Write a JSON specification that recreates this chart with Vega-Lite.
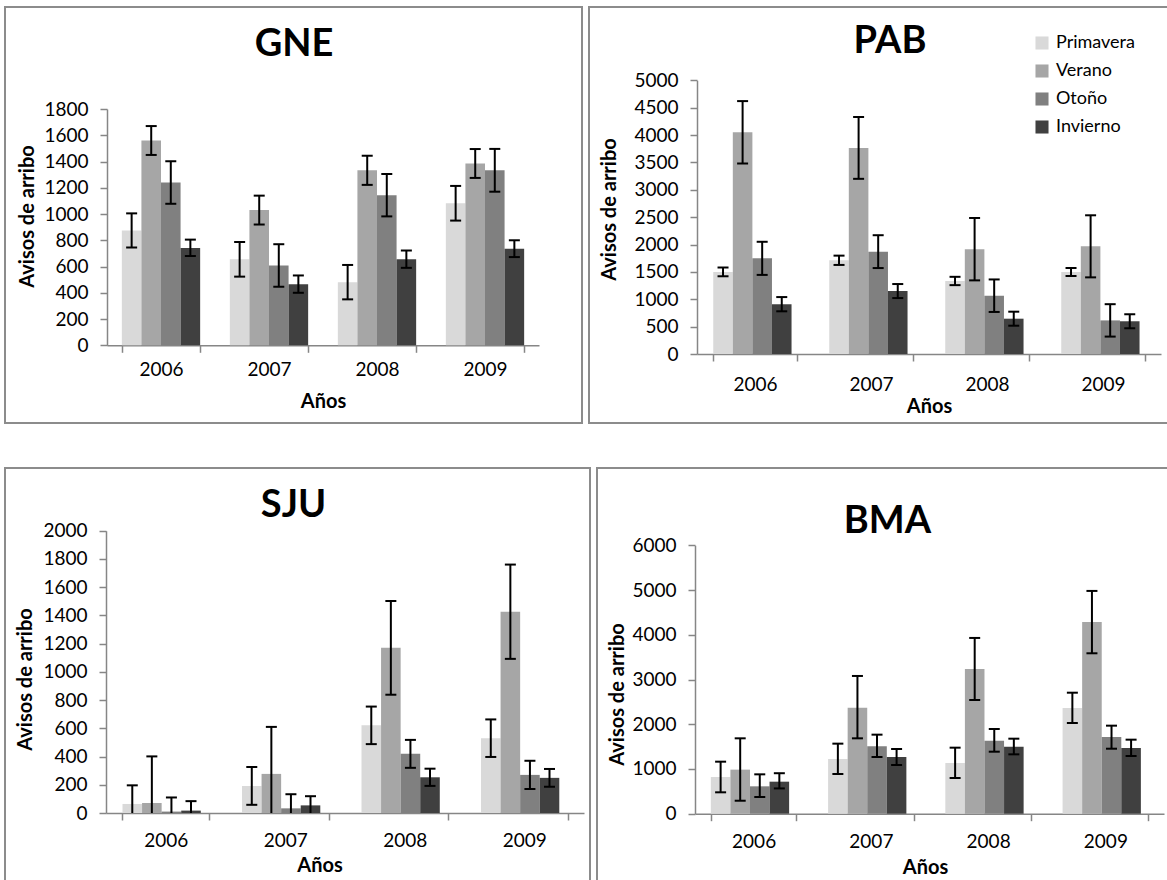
{
  "$schema": "https://vega.github.io/schema/vega-lite/v6.json",
  "background": "white",
  "padding": {"left": 4, "top": 6, "right": 0, "bottom": 0},
  "datasets": {
    "avisos": [
      {"site": "GNE", "year": "2006", "season": "Primavera", "value": 875, "lo": 745, "hi": 1005},
      {"site": "GNE", "year": "2006", "season": "Verano", "value": 1560, "lo": 1450, "hi": 1670},
      {"site": "GNE", "year": "2006", "season": "Otoño", "value": 1240, "lo": 1078, "hi": 1402},
      {"site": "GNE", "year": "2006", "season": "Invierno", "value": 741, "lo": 680, "hi": 805},
      {"site": "GNE", "year": "2007", "season": "Primavera", "value": 655, "lo": 523, "hi": 787},
      {"site": "GNE", "year": "2007", "season": "Verano", "value": 1030, "lo": 920, "hi": 1140},
      {"site": "GNE", "year": "2007", "season": "Otoño", "value": 608, "lo": 446, "hi": 770},
      {"site": "GNE", "year": "2007", "season": "Invierno", "value": 465, "lo": 400, "hi": 532},
      {"site": "GNE", "year": "2008", "season": "Primavera", "value": 480, "lo": 350, "hi": 612},
      {"site": "GNE", "year": "2008", "season": "Verano", "value": 1333, "lo": 1222, "hi": 1444},
      {"site": "GNE", "year": "2008", "season": "Otoño", "value": 1143, "lo": 982, "hi": 1305},
      {"site": "GNE", "year": "2008", "season": "Invierno", "value": 655, "lo": 590, "hi": 722},
      {"site": "GNE", "year": "2009", "season": "Primavera", "value": 1082, "lo": 950, "hi": 1214},
      {"site": "GNE", "year": "2009", "season": "Verano", "value": 1385, "lo": 1275, "hi": 1495},
      {"site": "GNE", "year": "2009", "season": "Otoño", "value": 1333, "lo": 1170, "hi": 1496},
      {"site": "GNE", "year": "2009", "season": "Invierno", "value": 736, "lo": 672, "hi": 800},

      {"site": "PAB", "year": "2006", "season": "Primavera", "value": 1500, "lo": 1420, "hi": 1580},
      {"site": "PAB", "year": "2006", "season": "Verano", "value": 4050, "lo": 3480, "hi": 4620},
      {"site": "PAB", "year": "2006", "season": "Otoño", "value": 1748, "lo": 1445, "hi": 2050},
      {"site": "PAB", "year": "2006", "season": "Invierno", "value": 910, "lo": 780, "hi": 1040},
      {"site": "PAB", "year": "2007", "season": "Primavera", "value": 1712, "lo": 1627, "hi": 1797},
      {"site": "PAB", "year": "2007", "season": "Verano", "value": 3765, "lo": 3200, "hi": 4330},
      {"site": "PAB", "year": "2007", "season": "Otoño", "value": 1870, "lo": 1570, "hi": 2170},
      {"site": "PAB", "year": "2007", "season": "Invierno", "value": 1150, "lo": 1022, "hi": 1278},
      {"site": "PAB", "year": "2008", "season": "Primavera", "value": 1334, "lo": 1258, "hi": 1410},
      {"site": "PAB", "year": "2008", "season": "Verano", "value": 1915, "lo": 1345, "hi": 2485},
      {"site": "PAB", "year": "2008", "season": "Otoño", "value": 1065, "lo": 768, "hi": 1362},
      {"site": "PAB", "year": "2008", "season": "Invierno", "value": 645, "lo": 517, "hi": 773},
      {"site": "PAB", "year": "2009", "season": "Primavera", "value": 1498, "lo": 1425, "hi": 1571},
      {"site": "PAB", "year": "2009", "season": "Verano", "value": 1967, "lo": 1400, "hi": 2534},
      {"site": "PAB", "year": "2009", "season": "Otoño", "value": 614, "lo": 318, "hi": 910},
      {"site": "PAB", "year": "2009", "season": "Invierno", "value": 598, "lo": 470, "hi": 726},

      {"site": "SJU", "year": "2006", "season": "Primavera", "value": 64, "lo": -68, "hi": 196},
      {"site": "SJU", "year": "2006", "season": "Verano", "value": 71, "lo": -259, "hi": 401},
      {"site": "SJU", "year": "2006", "season": "Otoño", "value": 10, "lo": -90, "hi": 110},
      {"site": "SJU", "year": "2006", "season": "Invierno", "value": 17, "lo": -50, "hi": 84},
      {"site": "SJU", "year": "2007", "season": "Primavera", "value": 192, "lo": 58, "hi": 326},
      {"site": "SJU", "year": "2007", "season": "Verano", "value": 277, "lo": -56, "hi": 610},
      {"site": "SJU", "year": "2007", "season": "Otoño", "value": 33, "lo": -67, "hi": 133},
      {"site": "SJU", "year": "2007", "season": "Invierno", "value": 54, "lo": -11, "hi": 119},
      {"site": "SJU", "year": "2008", "season": "Primavera", "value": 621, "lo": 488, "hi": 754},
      {"site": "SJU", "year": "2008", "season": "Verano", "value": 1170, "lo": 838, "hi": 1502},
      {"site": "SJU", "year": "2008", "season": "Otoño", "value": 419, "lo": 320, "hi": 518},
      {"site": "SJU", "year": "2008", "season": "Invierno", "value": 253, "lo": 192, "hi": 314},
      {"site": "SJU", "year": "2009", "season": "Primavera", "value": 530, "lo": 397, "hi": 663},
      {"site": "SJU", "year": "2009", "season": "Verano", "value": 1426, "lo": 1092, "hi": 1760},
      {"site": "SJU", "year": "2009", "season": "Otoño", "value": 270, "lo": 170, "hi": 370},
      {"site": "SJU", "year": "2009", "season": "Invierno", "value": 249, "lo": 186, "hi": 312},

      {"site": "BMA", "year": "2006", "season": "Primavera", "value": 820, "lo": 478, "hi": 1163},
      {"site": "BMA", "year": "2006", "season": "Verano", "value": 985, "lo": 290, "hi": 1685},
      {"site": "BMA", "year": "2006", "season": "Otoño", "value": 612, "lo": 373, "hi": 880},
      {"site": "BMA", "year": "2006", "season": "Invierno", "value": 716, "lo": 565, "hi": 905},
      {"site": "BMA", "year": "2007", "season": "Primavera", "value": 1222, "lo": 888, "hi": 1566},
      {"site": "BMA", "year": "2007", "season": "Verano", "value": 2371, "lo": 1685, "hi": 3079},
      {"site": "BMA", "year": "2007", "season": "Otoño", "value": 1506, "lo": 1267, "hi": 1767},
      {"site": "BMA", "year": "2007", "season": "Invierno", "value": 1267, "lo": 1089, "hi": 1446},
      {"site": "BMA", "year": "2008", "season": "Primavera", "value": 1133, "lo": 798, "hi": 1476},
      {"site": "BMA", "year": "2008", "season": "Verano", "value": 3235, "lo": 2542, "hi": 3929},
      {"site": "BMA", "year": "2008", "season": "Otoño", "value": 1632, "lo": 1386, "hi": 1894},
      {"site": "BMA", "year": "2008", "season": "Invierno", "value": 1498, "lo": 1327, "hi": 1677},
      {"site": "BMA", "year": "2009", "season": "Primavera", "value": 2363, "lo": 2027, "hi": 2705},
      {"site": "BMA", "year": "2009", "season": "Verano", "value": 4286, "lo": 3586, "hi": 4980},
      {"site": "BMA", "year": "2009", "season": "Otoño", "value": 1715, "lo": 1453, "hi": 1968},
      {"site": "BMA", "year": "2009", "season": "Invierno", "value": 1469, "lo": 1290, "hi": 1655}
    ]
  },
  "spacing": 43,
  "resolve": {"scale": {"color": "independent"}, "legend": {"color": "independent"}},
  "vconcat": [
    {
      "spacing": 7,
      "bounds": "flush",
      "resolve": {"scale": {"color": "independent"}, "legend": {"color": "independent"}},
      "hconcat": [
        {
          "width": 577,
          "height": 416,
          "data": {"name": "avisos"},
          "transform": [{"filter": "datum.site === 'GNE'"}],
          "encoding": {
            "xOffset": {"field": "season", "type": "nominal", "sort": ["Primavera", "Verano", "Otoño", "Invierno"], "scale": {"paddingInner": 0, "paddingOuter": 0}}
          },
          "layer": [
            {
              "mark": "bar",
              "encoding": {
                "x": {
                  "field": "year", "type": "nominal",
                  "scale": {"range": [102, 534], "paddingInner": 0.275, "paddingOuter": 0.1375},
                  "axis": {"orient": "bottom", "title": "Años", "offset": -77.7, "labelPadding": 17, "titleX": 318, "titleY": 55.7}
                },
                "y": {
                  "field": "value", "type": "quantitative", "title": "Avisos de arribo",
                  "scale": {"domain": [0, 1800], "range": [338.3, 102], "clamp": true, "nice": false},
                  "axis": {"values": [0, 200, 400, 600, 800, 1000, 1200, 1400, 1600, 1800], "offset": -102, "titleX": -80, "titleY": 209}
                },
                "color": {"field": "season", "type": "nominal", "sort": ["Primavera", "Verano", "Otoño", "Invierno"], "scale": {"domain": ["Primavera", "Verano", "Otoño", "Invierno"], "range": ["#d9d9d9", "#a6a6a6", "#808080", "#404040"]}, "legend": null}
              }
            },
            {
              "mark": {"type": "rule", "color": "black", "strokeWidth": 2},
              "encoding": {
                "x": {"field": "year", "type": "nominal", "axis": {"orient": "top", "title": "GNE", "offset": 0, "domain": false, "ticks": false, "labels": false, "titleFontSize": 38, "titleX": 288.5, "titleY": 37}},
                "y": {"field": "lo", "type": "quantitative", "title": "Avisos de arribo"},
                "y2": {"field": "hi"}
              }
            },
            {"mark": {"type": "tick", "color": "black", "thickness": 2, "size": 11, "opacity": 1}, "encoding": {"x": {"field": "year", "type": "nominal", "axis": null}, "y": {"field": "hi", "type": "quantitative", "title": "Avisos de arribo"}}},
            {"transform": [{"filter": "datum.lo >= 0"}], "mark": {"type": "tick", "color": "black", "thickness": 2, "size": 11, "opacity": 1}, "encoding": {"x": {"field": "year", "type": "nominal", "axis": null}, "y": {"field": "lo", "type": "quantitative", "title": "Avisos de arribo"}}}
          ]
        },
        {
          "width": 601,
          "height": 416,
          "data": {"name": "avisos"},
          "transform": [{"filter": "datum.site === 'PAB'"}],
          "encoding": {
            "xOffset": {"field": "season", "type": "nominal", "sort": ["Primavera", "Verano", "Otoño", "Invierno"], "scale": {"paddingInner": 0, "paddingOuter": 0}}
          },
          "layer": [
            {
              "mark": "bar",
              "encoding": {
                "x": {
                  "field": "year", "type": "nominal",
                  "scale": {"range": [108, 572], "paddingInner": 0.28, "paddingOuter": 0.14},
                  "axis": {"orient": "bottom", "title": "Años", "offset": -69, "labelPadding": 23, "titleX": 340, "titleY": 52}
                },
                "y": {
                  "field": "value", "type": "quantitative", "title": "Avisos de arribo",
                  "scale": {"domain": [0, 5000], "range": [347, 73.3], "clamp": true, "nice": false},
                  "axis": {"values": [0, 500, 1000, 1500, 2000, 2500, 3000, 3500, 4000, 4500, 5000], "offset": -108, "titleX": -88, "titleY": 202}
                },
                "color": {
                  "field": "season", "type": "nominal", "sort": ["Primavera", "Verano", "Otoño", "Invierno"],
                  "scale": {"domain": ["Primavera", "Verano", "Otoño", "Invierno"], "range": ["#d9d9d9", "#a6a6a6", "#808080", "#404040"]},
                  "legend": {"title": null, "orient": "none", "legendX": 444, "legendY": 27, "symbolType": "square", "symbolSize": 170, "symbolStrokeWidth": 0, "symbolOpacity": 1, "labelFontSize": 18, "labelColor": "#000", "labelOffset": 5, "rowPadding": 10, "padding": 0}
                }
              }
            },
            {
              "mark": {"type": "rule", "color": "black", "strokeWidth": 2},
              "encoding": {
                "x": {"field": "year", "type": "nominal", "axis": {"orient": "top", "title": "PAB", "offset": 0, "domain": false, "ticks": false, "labels": false, "titleFontSize": 38, "titleX": 300.5, "titleY": 34.5}},
                "y": {"field": "lo", "type": "quantitative", "title": "Avisos de arribo"},
                "y2": {"field": "hi"}
              }
            },
            {"mark": {"type": "tick", "color": "black", "thickness": 2, "size": 11, "opacity": 1}, "encoding": {"x": {"field": "year", "type": "nominal", "axis": null}, "y": {"field": "hi", "type": "quantitative", "title": "Avisos de arribo"}}},
            {"transform": [{"filter": "datum.lo >= 0"}], "mark": {"type": "tick", "color": "black", "thickness": 2, "size": 11, "opacity": 1}, "encoding": {"x": {"field": "year", "type": "nominal", "axis": null}, "y": {"field": "lo", "type": "quantitative", "title": "Avisos de arribo"}}}
          ]
        }
      ]
    },
    {
      "spacing": 7,
      "bounds": "flush",
      "resolve": {"scale": {"color": "independent"}, "legend": {"color": "independent"}},
      "hconcat": [
        {
          "width": 585,
          "height": 422,
          "data": {"name": "avisos"},
          "transform": [{"filter": "datum.site === 'SJU'"}],
          "encoding": {
            "xOffset": {"field": "season", "type": "nominal", "sort": ["Primavera", "Verano", "Otoño", "Invierno"], "scale": {"paddingInner": 0, "paddingOuter": 0}}
          },
          "layer": [
            {
              "mark": "bar",
              "encoding": {
                "x": {
                  "field": "year", "type": "nominal",
                  "scale": {"range": [101, 579], "paddingInner": 0.276, "paddingOuter": 0.138},
                  "axis": {"orient": "bottom", "title": "Años", "offset": -77, "labelPadding": 20, "titleX": 314.5, "titleY": 52}
                },
                "y": {
                  "field": "value", "type": "quantitative", "title": "Avisos de arribo",
                  "scale": {"domain": [0, 2000], "range": [345, 62.7], "clamp": true, "nice": false},
                  "axis": {"values": [0, 200, 400, 600, 800, 1000, 1200, 1400, 1600, 1800, 2000], "offset": -101, "titleX": -80.5, "titleY": 211}
                },
                "color": {"field": "season", "type": "nominal", "sort": ["Primavera", "Verano", "Otoño", "Invierno"], "scale": {"domain": ["Primavera", "Verano", "Otoño", "Invierno"], "range": ["#d9d9d9", "#a6a6a6", "#808080", "#404040"]}, "legend": null}
              }
            },
            {
              "mark": {"type": "rule", "color": "black", "strokeWidth": 2},
              "encoding": {
                "x": {"field": "year", "type": "nominal", "axis": {"orient": "top", "title": "SJU", "offset": 0, "domain": false, "ticks": false, "labels": false, "titleFontSize": 38, "titleX": 288, "titleY": 37}},
                "y": {"field": "lo", "type": "quantitative", "title": "Avisos de arribo"},
                "y2": {"field": "hi"}
              }
            },
            {"mark": {"type": "tick", "color": "black", "thickness": 2, "size": 11, "opacity": 1}, "encoding": {"x": {"field": "year", "type": "nominal", "axis": null}, "y": {"field": "hi", "type": "quantitative", "title": "Avisos de arribo"}}},
            {"transform": [{"filter": "datum.lo >= 0"}], "mark": {"type": "tick", "color": "black", "thickness": 2, "size": 11, "opacity": 1}, "encoding": {"x": {"field": "year", "type": "nominal", "axis": null}, "y": {"field": "lo", "type": "quantitative", "title": "Avisos de arribo"}}}
          ]
        },
        {
          "width": 580,
          "height": 422,
          "data": {"name": "avisos"},
          "transform": [{"filter": "datum.site === 'BMA'"}],
          "encoding": {
            "xOffset": {"field": "season", "type": "nominal", "sort": ["Primavera", "Verano", "Otoño", "Invierno"], "scale": {"paddingInner": 0, "paddingOuter": 0}}
          },
          "layer": [
            {
              "mark": "bar",
              "encoding": {
                "x": {
                  "field": "year", "type": "nominal",
                  "scale": {"range": [98, 567], "paddingInner": 0.27, "paddingOuter": 0.135},
                  "axis": {"orient": "bottom", "title": "Años", "offset": -76.3, "labelPadding": 21, "titleX": 328, "titleY": 53.8}
                },
                "y": {
                  "field": "value", "type": "quantitative", "title": "Avisos de arribo",
                  "scale": {"domain": [0, 6000], "range": [345.7, 77.3], "clamp": true, "nice": false},
                  "axis": {"values": [0, 1000, 2000, 3000, 4000, 5000, 6000], "offset": -98, "titleX": -77.5, "titleY": 226}
                },
                "color": {"field": "season", "type": "nominal", "sort": ["Primavera", "Verano", "Otoño", "Invierno"], "scale": {"domain": ["Primavera", "Verano", "Otoño", "Invierno"], "range": ["#d9d9d9", "#a6a6a6", "#808080", "#404040"]}, "legend": null}
              }
            },
            {
              "mark": {"type": "rule", "color": "black", "strokeWidth": 2},
              "encoding": {
                "x": {"field": "year", "type": "nominal", "axis": {"orient": "top", "title": "BMA", "offset": 0, "domain": false, "ticks": false, "labels": false, "titleFontSize": 38, "titleX": 290, "titleY": 53}},
                "y": {"field": "lo", "type": "quantitative", "title": "Avisos de arribo"},
                "y2": {"field": "hi"}
              }
            },
            {"mark": {"type": "tick", "color": "black", "thickness": 2, "size": 11, "opacity": 1}, "encoding": {"x": {"field": "year", "type": "nominal", "axis": null}, "y": {"field": "hi", "type": "quantitative", "title": "Avisos de arribo"}}},
            {"transform": [{"filter": "datum.lo >= 0"}], "mark": {"type": "tick", "color": "black", "thickness": 2, "size": 11, "opacity": 1}, "encoding": {"x": {"field": "year", "type": "nominal", "axis": null}, "y": {"field": "lo", "type": "quantitative", "title": "Avisos de arribo"}}}
          ]
        }
      ]
    }
  ],
  "config": {
    "font": "Lato",
    "view": {"stroke": "#8c8c8c", "strokeWidth": 2},
    "axis": {
      "grid": false,
      "domainColor": "#868686", "domainWidth": 1.5,
      "tickColor": "#868686", "tickWidth": 1.5, "tickSize": 7,
      "labelFont": "Lato", "labelFontSize": 19, "labelColor": "#000",
      "titleFont": "Lato", "titleFontSize": 20, "titleFontWeight": "bold", "titleColor": "#000",
      "titleAlign": "center", "titleBaseline": "middle"
    },
    "axisX": {"tickBand": "extent", "labelAngle": 0, "labelBaseline": "middle"},
    "axisY": {"labelPadding": 12, "format": "d", "titleAngle": -90, "labelBaseline": "middle"},
    "legend": {"labelFont": "Lato"}
  }
}
